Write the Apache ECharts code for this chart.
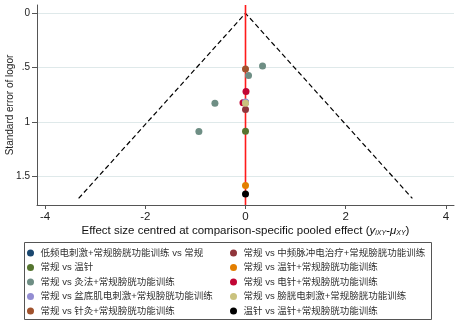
<!DOCTYPE html>
<html><head><meta charset="utf-8">
<script src="https://cdn.jsdelivr.net/npm/echarts@6/dist/echarts.min.js"></script>
<style>html,body{margin:0;padding:0;background:#fff}#c{width:458px;height:324px}</style>
</head><body><div id="c"></div>
<script>
// ---- data ----
const comparisons = [
  '低频电刺激+常规膀胱功能训练 vs 常规',
  '常规 vs 中频脉冲电治疗+常规膀胱功能训练',
  '常规 vs 温针',
  '常规 vs 温针+常规膀胱功能训练',
  '常规 vs 灸法+常规膀胱功能训练',
  '常规 vs 电针+常规膀胱功能训练',
  '常规 vs 盆底肌电刺激+常规膀胱功能训练',
  '常规 vs 膀胱电刺激+常规膀胱功能训练',
  '常规 vs 针灸+常规膀胱功能训练',
  '温针 vs 温针+常规膀胱功能训练'
];
const centredEffect = [
  [0], [0], [0], [0],
  [0.34, 0.06, -0.61, -0.93],
  [0.01, -0.05],
  [0], [0], [0], [0]
];
const standardError = [
  [0.82], [0.884], [1.084], [1.582],
  [0.483, 0.572, 0.826, 1.086],
  [0.719, 0.822],
  [0.815], [0.826], [0.511], [1.660]
];
const funnelX = [-3.33, 0, 3.33];
const funnelSE = [1.70, 0, 1.70];
const nullEffect = 0;
const xTicks = [-4, -2, 0, 2, 4];
const yTicks = [0, 0.5, 1, 1.5];
const yTickLabels = ['0', '.5', '1', '1.5'];
const xRange = [-4.16, 4.16];
const yRange = [-0.076, 1.76];

// ---- styles ----
const palette = ['#1a476f','#90353b','#55752f','#e37e00','#6e8e84','#c10534','#938dd2','#cac27e','#a0522d','#000000'];
const FONT = "'Liberation Sans', 'Noto Sans CJK SC', sans-serif";

const series = comparisons.map((name, i) => ({
  name, type: 'scatter', symbol: 'circle', symbolSize: 7, z: 3,
  itemStyle: { color: palette[i], opacity: 1, borderWidth: 0 },
  emphasis: { disabled: true },
  data: centredEffect[i].map((x, k) => [x, standardError[i][k]])
}));
series.unshift({
  name: 'funnel', type: 'line', z: 1, symbol: 'none', silent: true,
  itemStyle: { color: '#000' },
  lineStyle: { color: '#000', width: 1.2, type: [5, 3] },
  data: funnelX.map((x, k) => [x, funnelSE[k]])
});
series.push({
  name: 'null', type: 'line', z: 2, silent: true, symbol: 'none',
  itemStyle: { color: '#ff1a1a' },
  lineStyle: { color: '#ff1a1a', width: 1.6, type: 'solid', opacity: 1 },
  emphasis: { disabled: true },
  data: yRange.map(y => [nullEffect, y])
});

const legendBase = {
  orient: 'vertical', icon: 'circle', itemWidth: 10, itemHeight: 7, itemGap: 0,
  padding: 0, selectedMode: false,
  textStyle: { fontFamily: FONT, fontSize: 9.5, color: '#333', lineHeight: 14.5 }
};

const chart = echarts.init(document.getElementById('c'), null, { renderer: 'canvas' });
chart.setOption({
  animation: false,
  backgroundColor: '#fff',
  color: palette,
  grid: { left: 37, right: 4, top: 5, bottom: 119, containLabel: false, outerBoundsMode: 'none' },
  xAxis: {
    type: 'value', min: xRange[0], max: xRange[1],
    axisLine: { show: true, onZero: false, lineStyle: { color: '#555', width: 1 } },
    axisTick: { show: true, length: 4, customValues: xTicks, lineStyle: { color: '#555' } },
    axisLabel: { customValues: xTicks, margin: 6, fontFamily: FONT, fontSize: 11.5, color: '#222' },
    splitLine: { show: false },
    name: 'Effect size centred at comparison-specific pooled effect ({it|y}{sub|iXY}{it|-μ}{sub|XY})',
    nameLocation: 'middle', nameGap: 20, nameMoveOverlap: false,
    nameTextStyle: {
      fontFamily: FONT, fontSize: 11.5, color: '#111',
      rich: {
        it: { fontFamily: FONT, fontSize: 11.5, fontStyle: 'italic', color: '#111' },
        sub: { fontFamily: FONT, fontSize: 7, fontStyle: 'italic', color: '#111', verticalAlign: 'bottom', padding: [4, 0, 0, 0] }
      }
    }
  },
  yAxis: {
    type: 'value', inverse: true, min: yRange[0], max: yRange[1],
    axisLine: { show: true, onZero: false, lineStyle: { color: '#555', width: 1 } },
    axisTick: { show: true, length: 5, customValues: yTicks, lineStyle: { color: '#555' } },
    axisLabel: {
      customValues: yTicks, margin: 7, fontFamily: FONT, fontSize: 10, color: '#222',
      formatter: v => yTickLabels[yTicks.indexOf(v)] ?? ''
    },
    splitLine: { show: true, lineStyle: { color: '#dfe9ea', width: 1 } },
    name: 'Standard error of logor', nameLocation: 'middle', nameGap: 22, nameMoveOverlap: false,
    nameTextStyle: { fontFamily: FONT, fontSize: 10, color: '#222' }
  },
  legend: [
    Object.assign({}, legendBase, { left: 27, top: 245.75, data: comparisons.filter((_, i) => i % 2 === 0) }),
    Object.assign({}, legendBase, { left: 230, top: 245.75, data: comparisons.filter((_, i) => i % 2 === 1) })
  ],
  graphic: [{
    type: 'rect', silent: true,
    shape: { x: 24.5, y: 242.5, width: 407, height: 77 },
    style: { fill: 'none', stroke: '#555', lineWidth: 1 }
  }],
  series
});
</script>
</body></html>
